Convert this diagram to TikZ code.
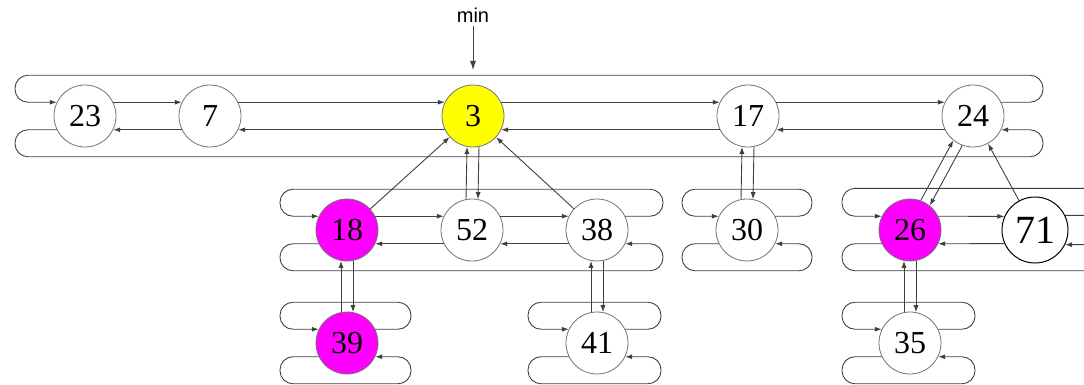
\documentclass[tikz,border=0pt]{standalone}
\usepackage{fontspec}
\setmainfont{Liberation Serif}
\newfontfamily\labelfont{Liberation Sans}
\usetikzlibrary{arrows.meta}

\definecolor{minyellow}{RGB}{255,255,0}
\definecolor{markpink}{RGB}{255,0,255}

\tikzset{
  key/.style={circle, draw=black!55, line width=0.8pt, fill=white,
    minimum size=62pt, inner sep=0pt, font=\fontsize{32}{32}\selectfont},
  marked/.style={key, fill=markpink},
  ptr/.style={draw=black!75, line width=0.9pt, -{Latex[length=7pt,width=5pt]}},
  wrap/.style={ptr, rounded corners=13pt},
}

% left and right pointers between two neighbours in a list
\newcommand{\sibs}[2]{%
  \draw[ptr] (#1.26) -- (#2.154);
  \draw[ptr] (#2.206) -- (#1.334);
}
% parent pointer up, child pointer down
\newcommand{\child}[2]{%
  \draw[ptr] (#2.101) -- (#1.259);
  \draw[ptr] (#1.281) -- (#2.79);
}
% the two pointers that close a circular list: first, last, left edge, right edge
\newcommand{\ringwrap}[4]{%
  \draw[wrap] (#2.26) -- (#2.26 -| #4) -- ++(0,-27) -| (#1.154 -| #3) -- (#1.154);
  \draw[wrap] (#1.206) -- (#1.206 -| #3) -- ++(0,27) -| (#2.334 -| #4) -- (#2.334);
}

\begin{document}
\begin{tikzpicture}[x=1pt, y=-1pt]
  \useasboundingbox (0,0) rectangle (1084,385);

  % root list
  \node[key] (n23) at (85,116) {23};
  \node[key] (n7) at (210,116) {7};
  \node[key, fill=minyellow] (n3) at (473,116) {3};
  \node[key] (n17) at (748,116) {17};
  \node[key] (n24) at (973,116) {24};

  % second level
  \node[marked] (n18) at (347,230) {18};
  \node[key] (n52) at (472,230) {52};
  \node[key] (n38) at (597,230) {38};
  \node[key] (n30) at (747,230) {30};
  \node[marked] (n26) at (910,230) {26};
  \node[key, draw=black, line width=1pt, minimum size=66pt,
    font=\fontsize{40}{40}\selectfont] (n71) at (1035,230) {71};

  % third level
  \node[marked] (n39) at (347,343) {39};
  \node[key] (n41) at (597,343) {41};
  \node[key] (n35) at (910,343) {35};

  % min pointer
  \node[font=\labelfont\fontsize{20}{20}\selectfont] (min) at (473,15) {min};
  \coordinate (minTip) at (473,70);
  \draw[ptr, -{Latex[length=9pt,width=6pt]}] (min) -- (minTip);

  % edges of the circular lists
  \coordinate (rootL) at (15,0);    \coordinate (rootR) at (1043,0);
  \coordinate (kidsL) at (280,0);   \coordinate (kidsR) at (663,0);
  \coordinate (thirtyL) at (682,0); \coordinate (thirtyR) at (812,0);
  \coordinate (twsixL) at (842,0);  \coordinate (twsixR) at (1110,0);
  \coordinate (thnineL) at (280,0); \coordinate (thnineR) at (411,0);
  \coordinate (foneL) at (528,0);   \coordinate (foneR) at (661,0);
  \coordinate (thfiveL) at (842,0); \coordinate (thfiveR) at (975,0);

  \sibs{n23}{n7}
  \sibs{n7}{n3}
  \sibs{n3}{n17}
  \sibs{n17}{n24}
  \sibs{n18}{n52}
  \sibs{n52}{n38}
  % 71 is drawn larger, so its anchors sit at a flatter angle
  \draw[ptr] (n26.26) -- (n71.156);
  \draw[ptr] (n71.204) -- (n26.334);

  \ringwrap{n23}{n24}{rootL}{rootR}
  \ringwrap{n18}{n38}{kidsL}{kidsR}
  \ringwrap{n30}{n30}{thirtyL}{thirtyR}
  \ringwrap{n26}{n71}{twsixL}{twsixR}
  \ringwrap{n39}{n39}{thnineL}{thnineR}
  \ringwrap{n41}{n41}{foneL}{foneR}
  \ringwrap{n35}{n35}{thfiveL}{thfiveR}

  % parents and children
  \child{n3}{n52}
  \draw[ptr] (n18) -- (n3);
  \draw[ptr] (n38) -- (n3);
  \child{n17}{n30}
  \draw[ptr] (n26.70) -- (n24.231);
  \draw[ptr] (n24.250) -- (n26.51);
  \draw[ptr] (n71) -- (n24);
  \child{n18}{n39}
  \child{n38}{n41}
  \child{n26}{n35}
\end{tikzpicture}
\end{document}
